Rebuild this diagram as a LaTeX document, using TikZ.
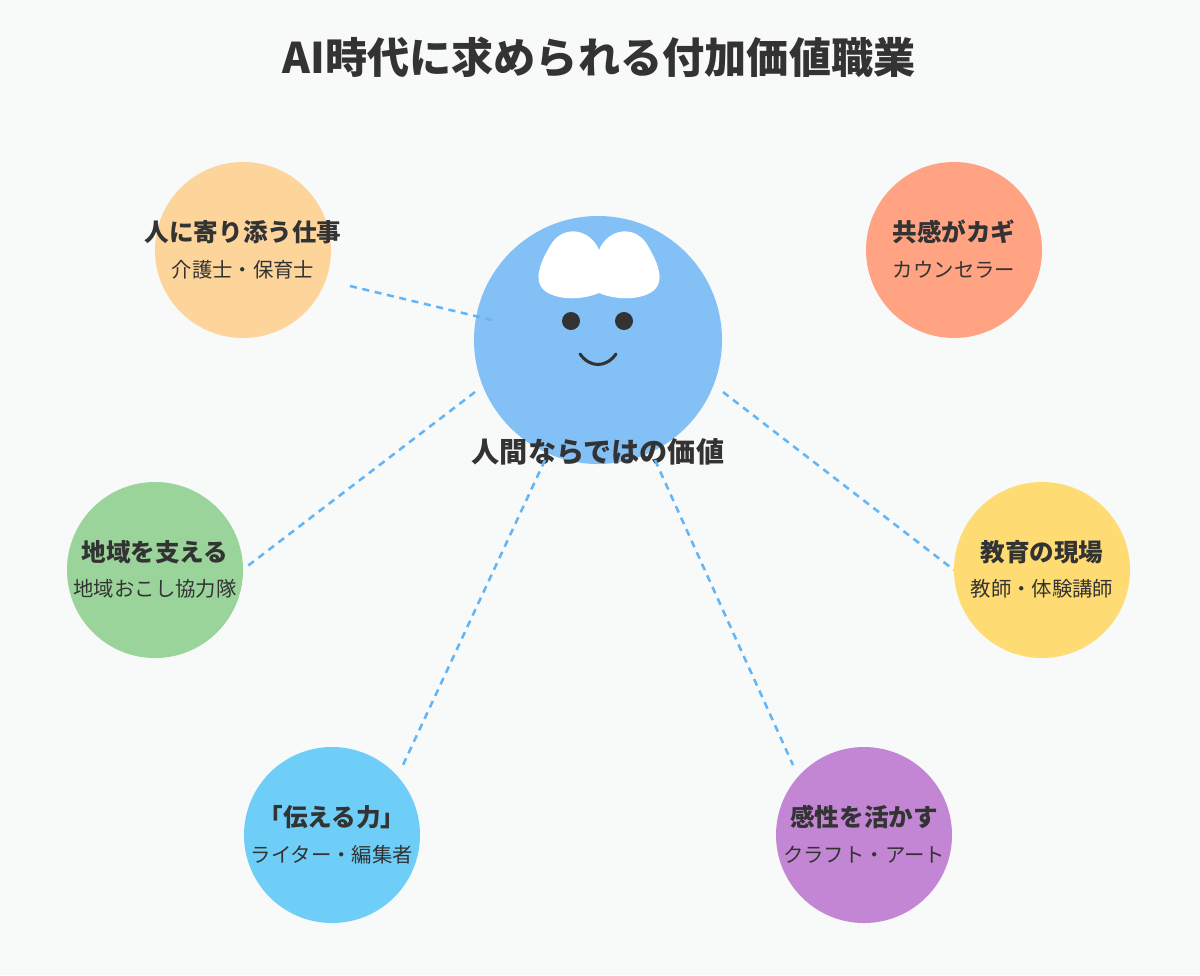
\documentclass[tikz,border=0pt]{standalone}
\usepackage{fontspec}
\setmainfont{Noto Sans CJK JP}
\usetikzlibrary{positioning}

\definecolor{bgcol}{HTML}{F8F9F9}
\definecolor{ink}{HTML}{333333}
\definecolor{linkcol}{HTML}{64B5F6}
\definecolor{corecol}{HTML}{82C0F5}
\definecolor{carecol}{HTML}{FDD49A}
\definecolor{empcol}{HTML}{FFA383}
\definecolor{localcol}{HTML}{9AD49A}
\definecolor{educol}{HTML}{FFDC73}
\definecolor{tellcol}{HTML}{6FCEF7}
\definecolor{artcol}{HTML}{C386D4}

\tikzset{
  jobball/.style={circle,fill=#1,minimum size=176*0.025cm,inner sep=0pt},
  jobhead/.style={font=\fontsize{17.5}{20}\selectfont\bfseries,text=ink},
  jobsub/.style={font=\fontsize{14.5}{17}\selectfont,text=ink},
  link/.style={linkcol,line width=1.8pt,dash pattern=on 5pt off 4pt}
}

\begin{document}
\begin{tikzpicture}[x=0.025cm,y=-0.025cm]
    \fill[bgcol] (0,0) rectangle (1200,975);
    \useasboundingbox (0,0) rectangle (1200,975);

    \node[font=\fontsize{30}{34}\selectfont\bfseries,text=ink] (title) at (599,57) {AI時代に求められる付加価値職業};

    % connectors
    \coordinate (c1a) at (350,286); \coordinate (c1b) at (492,320);
    \coordinate (c2a) at (475,392); \coordinate (c2b) at (245,568);
    \coordinate (c3a) at (723,392); \coordinate (c3b) at (954,570);
    \coordinate (c4a) at (545,460); \coordinate (c4b) at (403,765);
    \coordinate (c5a) at (655,460); \coordinate (c5b) at (793,765);

    % center face
    \node[circle,fill=corecol,minimum size=248*0.025cm,inner sep=0pt] (core) at (598,340) {};
    \fill[white] (599,250) .. controls (590,228) and (562,224) .. (550,246)
        .. controls (540,263) and (530,285) .. (550,294)
        .. controls (568,302) and (590,297) .. (599,293)
        .. controls (608,297) and (630,302) .. (648,294)
        .. controls (668,285) and (658,263) .. (648,246)
        .. controls (636,224) and (608,228) .. (599,250);
    \fill[ink] (571,321) circle (9);
    \fill[ink] (624,321) circle (9);
    \draw[ink,line width=2.2pt,line cap=round] (580,354) .. controls (590,368) and (606,368) .. (616,354);
    \node[font=\fontsize{20}{24}\selectfont\bfseries,text=ink] (corelabel) at (598,452) {人間ならではの価値};

    \draw[link] (c1a) -- (c1b);
    \draw[link] (c2a) -- (c2b);
    \draw[link] (c3a) -- (c3b);
    \draw[link] (c4a) -- (c4b);
    \draw[link] (c5a) -- (c5b);

    % job circles
    \node[jobball=carecol] (care) at (243,250) {};
    \node[jobhead] at (243,232) {人に寄り添う仕事};
    \node[jobsub] at (243,270) {介護士・保育士};

    \node[jobball=empcol] (emp) at (954,250) {};
    \node[jobhead] at (954,232) {共感がカギ};
    \node[jobsub] at (954,270) {カウンセラー};

    \node[jobball=localcol] (local) at (155,570) {};
    \node[jobhead] at (155,552) {地域を支える};
    \node[jobsub] at (155,589) {地域おこし協力隊};

    \node[jobball=educol] (edu) at (1042,570) {};
    \node[jobhead] at (1042,552) {教育の現場};
    \node[jobsub] at (1042,589) {教師・体験講師};

    \node[jobball=tellcol] (tell) at (332,835) {};
    \node[jobhead] at (332,817) {「伝える力」};
    \node[jobsub] at (332,855) {ライター・編集者};

    \node[jobball=artcol] (art) at (864,835) {};
    \node[jobhead] at (864,817) {感性を活かす};
    \node[jobsub] at (864,855) {クラフト・アート};
\end{tikzpicture}
\end{document}
